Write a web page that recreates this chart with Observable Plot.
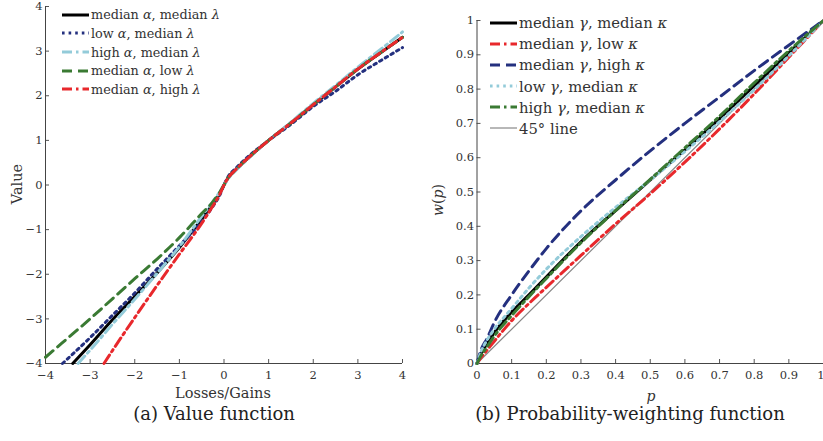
<!DOCTYPE html>
<html><head><meta charset="utf-8">
<script src="https://cdn.jsdelivr.net/npm/d3@7"></script>
<script src="https://cdn.jsdelivr.net/npm/@observablehq/plot@0.6"></script>
<style>
body{margin:0;background:#fff;}
#root{position:relative;width:823px;height:441px;font-family:"DejaVu Serif",serif;color:#2a2a2a;overflow:hidden}
.abs{position:absolute;white-space:nowrap;line-height:1}
.row{position:absolute;display:flex;align-items:center;height:18px;white-space:nowrap;color:#333}
.row svg{margin-right:2px}
</style></head><body><div id="root"></div>
<script>
// ---------- (a) Value function ----------
const gainX = [0, 0.1, 0.25, 0.5, 1, 1.5, 2, 2.5, 3, 3.5, 4];
const gainMedAlpha = [0, 0.17, 0.33, 0.57, 1.0, 1.39, 1.8, 2.2, 2.6, 2.96, 3.31];
const gainLowAlpha = [0, 0.2, 0.36, 0.6, 1.0, 1.36, 1.76, 2.1, 2.47, 2.78, 3.08];
const gainHighAlpha = [0, 0.15, 0.31, 0.55, 1.0, 1.41, 1.83, 2.23, 2.64, 3.03, 3.43];

const lossX_medMed = [-3.39, -3, -2.5, -2, -1.5, -1, -0.5, -0.25, -0.1];
const lossY_medMed = [-4, -3.58, -3.02, -2.5, -1.97, -1.4, -0.76, -0.42, -0.2];
const lossX_lowAlpha = [-3.62, -3, -2.5, -2, -1.5, -1, -0.5, -0.25, -0.1];
const lossY_lowAlpha = [-4, -3.42, -2.92, -2.42, -1.88, -1.36, -0.82, -0.48, -0.24];
const lossX_highAlpha = [-3.27, -3, -2.5, -2, -1.5, -1, -0.5, -0.25, -0.1];
const lossY_highAlpha = [-4, -3.7, -3.12, -2.56, -1.98, -1.38, -0.7, -0.37, -0.16];
const lossX_lowLambda = [-4, -3.5, -3, -2.5, -2, -1.5, -1, -0.5, -0.26, -0.1];
const lossY_lowLambda = [-3.86, -3.43, -3.0, -2.55, -2.1, -1.66, -1.18, -0.64, -0.39, -0.17];
const lossX_highLambda = [-2.69, -2.5, -2, -1.5, -1, -0.5, -0.25, -0.1];
const lossY_highLambda = [-4, -3.71, -2.97, -2.25, -1.55, -0.86, -0.47, -0.22];

const vfTicks = [-4, -3, -2, -1, 0, 1, 2, 3, 4];

// ---------- (b) Probability-weighting function ----------
const pX = [0, 0.01, 0.03, 0.05, 0.1, 0.15, 0.2, 0.3, 0.4, 0.5, 0.6, 0.7, 0.8, 0.9, 1];
const wMedMed  = [0, 0.025, 0.06, 0.09, 0.15, 0.2, 0.252, 0.355, 0.446, 0.535, 0.623, 0.714, 0.81, 0.906, 1];
const wLowKappa = [0, 0.015, 0.04, 0.065, 0.125, 0.175, 0.222, 0.315, 0.407, 0.495, 0.587, 0.684, 0.786, 0.893, 1];
const wHighKappa = [0, 0.035, 0.075, 0.12, 0.2, 0.27, 0.335, 0.445, 0.535, 0.62, 0.70, 0.777, 0.854, 0.928, 1];
const wLowGamma = [0, 0.03, 0.07, 0.1, 0.16, 0.22, 0.275, 0.37, 0.455, 0.535, 0.618, 0.705, 0.798, 0.897, 1];
const wHighGamma = [0, 0.02, 0.05, 0.08, 0.14, 0.195, 0.248, 0.352, 0.446, 0.537, 0.629, 0.721, 0.818, 0.912, 1];
const diagX = [0, 1];
const diagY = [0, 1];
const pTicks = [0, 0.1, 0.2, 0.3, 0.4, 0.5, 0.6, 0.7, 0.8, 0.9, 1];

// ---------- styles ----------
const C = {black:"#000000", navy:"#24307f", lightblue:"#93cbd9", green:"#3a7a33", red:"#e8282c", gray:"#888888"};
const DASH = {solid:null, dotted:"2.6,4", dashed:"10,6", dashdot:"10,4,2.5,4"};

function rows(name, xs, ys){ return xs.map((x,i)=>({name, x, y: ys[i]})); }
const fmtMinus = d => (d < 0 ? "\u2212" + Math.abs(d) : String(d));

const leftSeries = [
  {key:"a1", label:"median <i>α</i>, median <i>λ</i>", color:C.black, dash:DASH.solid,
   data: rows("a1", lossX_medMed.concat(gainX), lossY_medMed.concat(gainMedAlpha))},
  {key:"a2", label:"low <i>α</i>, median <i>λ</i>", color:C.navy, dash:DASH.dotted,
   data: rows("a2", lossX_lowAlpha.concat(gainX), lossY_lowAlpha.concat(gainLowAlpha))},
  {key:"a3", label:"high <i>α</i>, median <i>λ</i>", color:C.lightblue, dash:DASH.dashdot,
   data: rows("a3", lossX_highAlpha.concat(gainX), lossY_highAlpha.concat(gainHighAlpha))},
  {key:"a4", label:"median <i>α</i>, low <i>λ</i>", color:C.green, dash:DASH.dashed,
   data: rows("a4", lossX_lowLambda.concat(gainX), lossY_lowLambda.concat(gainMedAlpha))},
  {key:"a5", label:"median <i>α</i>, high <i>λ</i>", color:C.red, dash:DASH.dashdot,
   data: rows("a5", lossX_highLambda.concat(gainX), lossY_highLambda.concat(gainMedAlpha))}
];

const rightSeries = [
  {key:"b1", label:"median <i>γ</i>, median <i>κ</i>", color:C.black, dash:DASH.solid, w:3, data: rows("b1", pX, wMedMed)},
  {key:"b2", label:"median <i>γ</i>, low <i>κ</i>", color:C.red, dash:DASH.dashdot, w:3, data: rows("b2", pX, wLowKappa)},
  {key:"b3", label:"median <i>γ</i>, high <i>κ</i>", color:C.navy, dash:DASH.dashed, w:3, data: rows("b3", pX, wHighKappa)},
  {key:"b4", label:"low <i>γ</i>, median <i>κ</i>", color:C.lightblue, dash:DASH.dotted, w:3, data: rows("b4", pX, wLowGamma)},
  {key:"b5", label:"high <i>γ</i>, median <i>κ</i>", color:C.green, dash:DASH.dashdot, w:3, data: rows("b5", pX, wHighGamma)},
  {key:"b6", label:"45° line", color:C.gray, dash:DASH.solid, w:1.2, data: rows("b6", diagX, diagY)}
];

const axisStyle = {fontFamily:"DejaVu Serif, serif", fontSize:"11.5px", color:"#333", background:"transparent", overflow:"visible"};

const left = Plot.plot({
  width: 410, height: 400,
  marginLeft: 45, marginRight: 8, marginTop: 6, marginBottom: 37,
  style: axisStyle,
  x: {domain: [-4, 4]},
  y: {domain: [-4, 4]},
  marks: [
    Plot.axisX(vfTicks, {tickSize: -4, tickPadding: 11, label: null, tickFormat: fmtMinus, stroke:"#555"}),
    Plot.axisY(vfTicks, {tickSize: -4, tickPadding: 7, label: null, tickFormat: fmtMinus, stroke:"#555"}),
    Plot.ruleX([-4], {stroke:"#444", strokeWidth:1}),
    Plot.ruleY([-4], {stroke:"#444", strokeWidth:1}),
    ...leftSeries.map(s => Plot.line(s.data, {x:"x", y:"y", stroke:s.color, strokeWidth:3, strokeDasharray:s.dash, curve:"monotone-x"}))
  ]
});

const pTicksInner = pTicks.filter(d => d < 1);
const pTicksEnd = pTicks.filter(d => d === 1);

const right = Plot.plot({
  width: 413, height: 400,
  marginLeft: 66.5, marginRight: 0, marginTop: 20, marginBottom: 37,
  style: axisStyle,
  x: {domain: [0, 1]},
  y: {domain: [0, 1]},
  marks: [
    Plot.axisX(pTicksInner, {tickSize: -4, tickPadding: 11, label: null, tickFormat: d => String(d), stroke:"#555"}),
    Plot.axisX(pTicksEnd, {tickSize: -4, tickPadding: 11, label: null, tickFormat: d => String(d), stroke:"#555", textAnchor:"end", dx: 1}),
    Plot.axisY(pTicks, {tickSize: -4, tickPadding: 7, label: null, tickFormat: d => String(d), stroke:"#555"}),
    Plot.ruleX([0], {stroke:"#444", strokeWidth:1}),
    Plot.ruleY([0], {stroke:"#444", strokeWidth:1}),
    ...[rightSeries[5], ...rightSeries.slice(0,5)].map(s => Plot.line(s.data, {x:"x", y:"y", stroke:s.color, strokeWidth:s.w, strokeDasharray:s.dash, curve:"monotone-x"}))
  ]
});

const root = document.getElementById("root");
left.style.position = "absolute"; left.style.left = "0px"; left.style.top = "0px";
right.style.position = "absolute"; right.style.left = "410px"; right.style.top = "0px";
root.appendChild(left);
root.appendChild(right);

function addText(html, x, y, size, opts = {}) {
  const d = document.createElement("div");
  d.className = "abs";
  d.innerHTML = html;
  d.style.fontSize = size + "px";
  d.style.left = x + "px";
  d.style.top = y + "px";
  d.style.transform = `translate(-50%,-50%)${opts.rotate ? " rotate(-90deg)" : ""}`;
  if (opts.color) d.style.color = opts.color;
  root.appendChild(d);
}

function addLegend(series, x0, y0, dy, sampleW, fontSize) {
  series.forEach((s, i) => {
    const r = document.createElement("div");
    r.className = "row";
    r.style.left = x0 + "px";
    r.style.top = (y0 + i * dy - 9) + "px";
    r.style.fontSize = fontSize + "px";
    const w = s.w || 3;
    r.innerHTML = `<svg width="${sampleW}" height="8"><line x1="0" y1="4" x2="${sampleW}" y2="4" stroke="${s.color}" stroke-width="${w}" ${s.dash ? `stroke-dasharray="${s.dash}"` : ""}/></svg><span>${s.label}</span>`;
    root.appendChild(r);
  });
}

addLegend(leftSeries, 62, 14.7, 18.65, 27, 12.8);
addLegend(rightSeries, 490, 22.7, 21.1, 27, 14.8);

addText("Value", 17, 184, 14.5, {rotate:true, color:"#333"});
addText("Losses/Gains", 223, 393, 14.5, {color:"#333"});
addText("<i>w</i>(<i>p</i>)", 438, 200, 14, {rotate:true, color:"#333"});
addText("<i>p</i>", 651, 396, 14, {color:"#333"});
addText("(a) Value function", 214, 414, 18, {color:"#222"});
addText("(b) Probability-weighting function", 630, 414, 18, {color:"#222"});
</script>
</body></html>
